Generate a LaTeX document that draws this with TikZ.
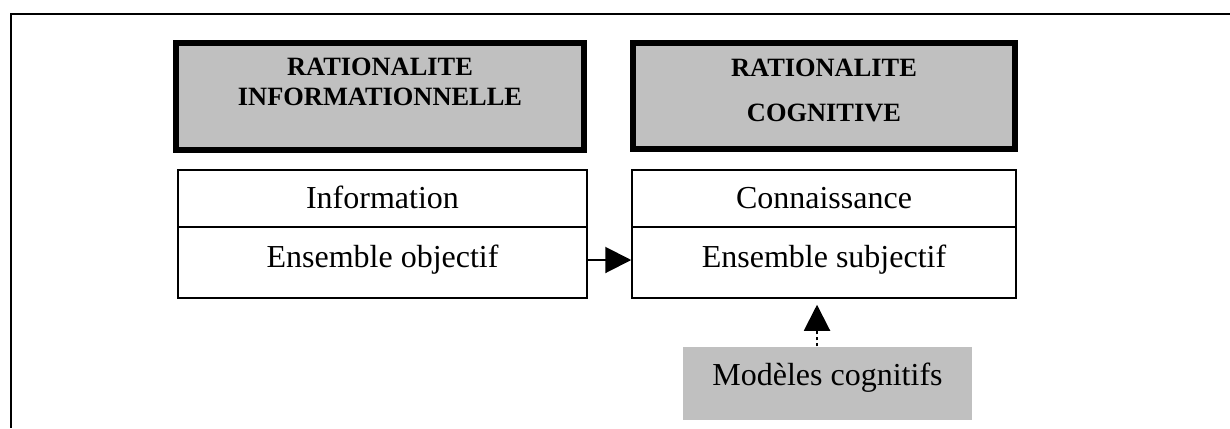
\documentclass[tikz,border=0pt]{standalone}
\usepackage{fontspec}
\setmainfont{Liberation Serif}
\usetikzlibrary{arrows.meta}
\definecolor{headGray}{HTML}{C0C0C0}

\begin{document}
\begin{tikzpicture}
[x=0.5pt,y=-0.5pt,
  frameDecorate/.style={line width=0.75pt},%
  headDecorate/.style={shape=rectangle,draw,line width=3pt,fill=headGray,inner sep=0pt},%
  titleDecorate/.style={inner sep=0pt,anchor=north,align=center,
    font=\bfseries\fontsize{13.2}{15}\selectfont},%
  cellDecorate/.style={shape=rectangle,draw,line width=0.75pt,inner sep=0pt,
    anchor=base,font=\fontsize{16}{19}\selectfont},%
  lineDecorate/.style={-{Triangle[length=13pt,width=13pt]},line width=1pt}]
\useasboundingbox (0,0) rectangle (1230,428);
%% outer frame
\coordinate (frameNE) at (1230,14);
\coordinate (frameSW) at (11,428);
\draw[frameDecorate] (frameNE) -| (frameSW);
%% header boxes
\node (headInfo) at (380,96.5) [headDecorate,minimum width=204pt,minimum height=53.5pt] {};
\node (headCogn) at (824,96) [headDecorate,minimum width=191pt,minimum height=53pt] {};
\node (titleInfo) at (380,58) [titleDecorate] {RATIONALITE\\INFORMATIONNELLE};
\node (titleCogn) at (824,59) [titleDecorate] {RATIONALITE\\[7.5pt]COGNITIVE};
%% cells
\foreach \nodename/\x/\w/\txt in {
  info/382.5/204.5/Information, conn/824/192/Connaissance}
{
  \node (\nodename) at (\x,208) [cellDecorate,minimum width=\w pt,
    text height=19pt,text depth=9.5pt] {\txt};
}
\foreach \nodename/\x/\w/\txt in {
  ensObj/382.5/204.5/Ensemble objectif, ensSubj/824/192/Ensemble subjectif}
{
  \node (\nodename) at (\x,267) [cellDecorate,minimum width=\w pt,
    text height=20pt,text depth=15.5pt] {\txt};
}
\node (models) at (827.5,385) [cellDecorate,draw=none,fill=headGray,
  minimum width=144.5pt,text height=19pt,text depth=17.5pt] {Modèles cognitifs};
%% arrows
\draw[lineDecorate] ([yshift=1.25pt]ensObj.east) -- ([yshift=1.25pt]ensSubj.west);
\draw[lineDecorate,dash pattern=on 1.5pt off 1.5pt]
  ([xshift=-5.25pt]models.north) -- ([xshift=-3.5pt,yshift=-3pt]ensSubj.south);
\end{tikzpicture}
\end{document}
